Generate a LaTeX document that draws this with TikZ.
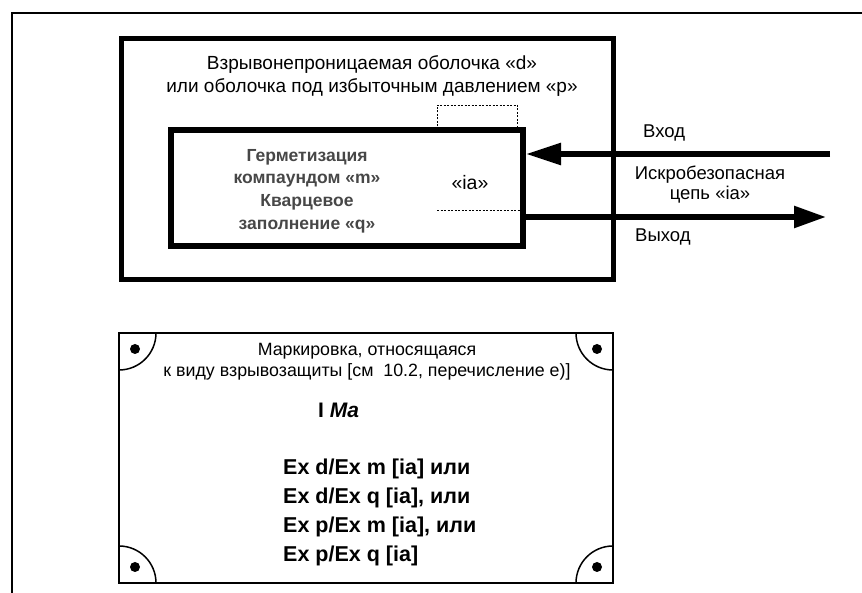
\documentclass[tikz,border=0pt]{standalone}
\usepackage{fontspec}
\setmainfont{Liberation Sans}
\usetikzlibrary{arrows.meta}
\begin{document}
\begin{tikzpicture}[x=1pt,y=1pt,
  thickbox/.style={draw, line width=5pt},
  innerbox/.style={draw, line width=6pt, minimum width=352pt, minimum height=116pt, inner sep=0pt},
  thinline/.style={line width=2pt},
  dashline/.style={line width=0.9pt, dash pattern=on 2pt off 1.5pt},
  bigarrow/.style={line width=5.5pt},
  lbl/.style={font=\fontsize{18.5}{20}\selectfont, inner sep=0pt},
  titlelbl/.style={font=\fontsize{19}{23}\selectfont, inner sep=0pt, align=center},
  graylbl/.style={font=\fontsize{17.5}{22.7}\selectfont\bfseries, text=black!72, inner sep=0pt, align=center},
  platelbl/.style={font=\fontsize{17.8}{21}\selectfont, inner sep=0pt, align=center},
  codelbl/.style={font=\fontsize{21.5}{29}\selectfont\bfseries, inner sep=0pt, align=left},
  dot/.style={fill=black, circle, minimum size=10pt, inner sep=0pt}
]
\useasboundingbox (0,0) rectangle (862,593);
% outer frame (open to right and bottom)
\coordinate (fbl) at (12,0);
\coordinate (ftl) at (12,580);
\coordinate (ftr) at (862,580);
\draw[thinline] (fbl) -- (ftl) -- (ftr);
% enclosure d / p
\coordinate (encA) at (121,554);
\coordinate (encB) at (613,313);
\draw[thickbox] (encA) rectangle (encB);
\node[titlelbl] (title) at (372,516.5) {Взрывонепроницаемая оболочка «d»\\или оболочка под избыточным давлением «р»};
% inner box m / q
\node[innerbox] (inner) at (347,405) {};
\node[graylbl] (mq) at (307,402) {Герметизация\\компаундом «m»\\Кварцевое\\заполнение «q»};
% dashed ia part
\coordinate (d1) at (437,463);
\coordinate (d2) at (437,488);
\coordinate (d3) at (517,488);
\coordinate (d4) at (517,463);
\draw[dashline] (d1) -- (d2) -- (d3) -- (d4);
\coordinate (d5) at (437,383);
\draw[dashline] (d5) -- (d5 -| inner.east);
\node[font=\fontsize{19.5}{22}\selectfont, inner sep=0pt] (ia) at (470,410) {«ia»};
% arrows
\coordinate (inA) at (830,439);
\coordinate (outB) at (826,376);
\draw[bigarrow, -{Triangle[length=35pt, width=21pt]}] (inA) -- (inA -| inner.east);
\draw[bigarrow, -{Triangle[length=32pt, width=21pt]}] (inner.east |- outB) -- (outB);
\node[lbl, anchor=west] (vhod) at (643,460) {Вход};
\node[lbl, align=center] (cep) at (710,408) {Искробезопасная\\цепь «ia»};
\node[lbl, anchor=west] (vyhod) at (635,356) {Выход};
% plate
\coordinate (pA) at (119,260);
\coordinate (pB) at (613,10);
\draw[thinline] (pA) rectangle (pB);
\draw[line width=1.5pt] (119,223) arc[start angle=-90, end angle=0, radius=37];
\draw[line width=1.5pt] (576,260) arc[start angle=180, end angle=270, radius=37];
\draw[line width=1.5pt] (156,10) arc[start angle=0, end angle=90, radius=37];
\draw[line width=1.5pt] (613,47) arc[start angle=90, end angle=180, radius=37];
\node[dot] (dTL) at (135,244) {};
\node[dot] (dTR) at (597,244) {};
\node[dot] (dBL) at (135,26) {};
\node[dot] (dBR) at (597,26) {};
\node[platelbl] (mark) at (367,231) {Маркировка, относящаяся\\к виду взрывозащиты [см~~10.2, перечисление е)]};
\node[font=\fontsize{21}{22}\selectfont\bfseries, inner sep=0pt, anchor=west] (ima) at (318,183) {I \textit{Ma}};
\node[codelbl, anchor=west] (codes) at (283,81) {Ex d/Ex m [ia] или\\Ex d/Ex q [ia], или\\Ex p/Ex m [ia], или\\Ex p/Ex q [ia]};
\end{tikzpicture}
\end{document}
